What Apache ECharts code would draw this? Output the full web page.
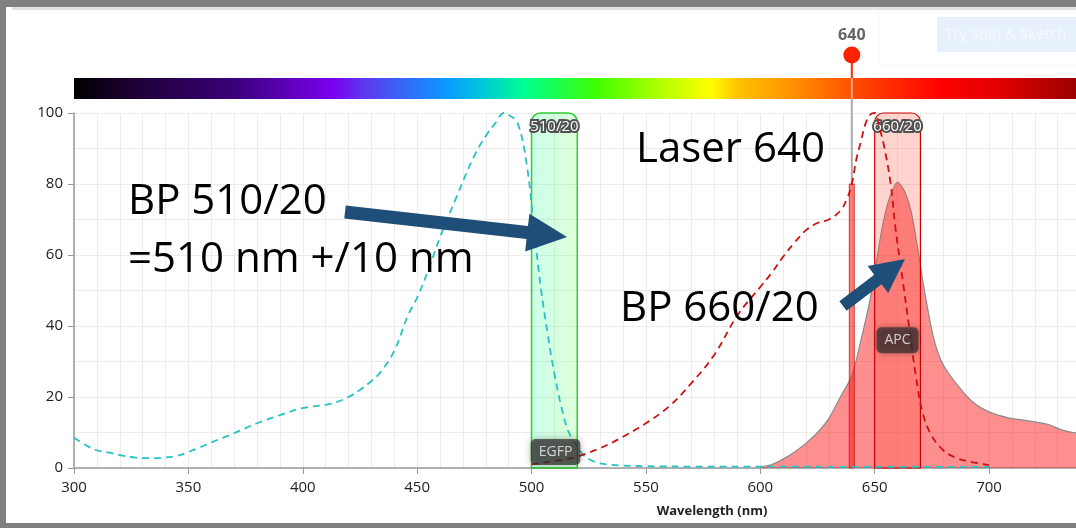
<!DOCTYPE html>
<html><head><meta charset="utf-8">
<script src="https://cdn.jsdelivr.net/npm/echarts@6/dist/echarts.min.js"></script>
<style>html,body{margin:0;padding:0;background:#fff;}#c{width:1076px;height:528px;}</style>
</head><body><div id="c"></div>
<script>
// ---- data ----
const X_MIN = 300, X_MAX = 738;
const xTickStep = 50, yTickStep = 20;
const egfpEx = [[300,8.5],[305,6.5],[310,5],[315,4.4],[320,3.6],[325,3.1],[330,2.8],[335,2.8],[340,3],[345,3.4],[350,4.5],[355,5.8],[360,7.2],[370,9.8],[380,12.6],[390,14.9],[400,16.9],[410,17.8],[415,18.6],[420,20],[425,22],[430,24.5],[434,27],[440,33],[446,43],[450,48],[455,56],[460,65],[467,76],[475,88],[480,93.5],[484,97],[488,100],[490,99.5],[494,97],[498,85],[501,68],[504,51],[507,38],[510,26.5],[513,17.3],[516,10.5],[520,6],[523,3.5],[526,2.2],[530,1.3],[535,0.9],[540,0.7],[550,0.5],[575,0.4],[600,0.4],[650,0.3],[700,0.3]];
const apcEx = [[500,1],[505,1.5],[510,2],[515,2.5],[520,3.2],[530,5.6],[540,8.8],[550,12.6],[560,17.3],[570,24],[580,32],[590,43],[600,51],[605,55],[610,59.5],[615,63.5],[620,67],[625,69],[630,70],[635,72.5],[638,76],[640,80],[642,87],[644,92],[646,97],[648,99.5],[650,100],[652,96],[654,91],[657,80],[659,68],[662,54],[665,40],[668,26],[671,15.5],[675,9],[680,5],[685,3],[690,2],[700,0.8]];
const apcEm = [[600,0.3],[605,1],[610,2.5],[615,4.5],[620,7],[625,10],[630,14],[635,20],[640,26],[644,36],[648,47.5],[651,59],[654,70],[657,77],[660,80.5],[663,78],[666,72],[669,61],[672,49],[676,36],[680,29],[686,23.5],[693,18.5],[700,15.8],[708,14.2],[717,13.3],[726,12.2],[731,10.9],[738,9.8]];
const filters = [[500,520,'510/20'],[650,670,'660/20']];
const dyeLabels = [['EGFP',510.5,4.5],['APC',660,36]];
const laser = [[640,80]];
const spectrumStops = [[300,'#000000'],[326,'#1e0035'],[370,'#3a007a'],[413,'#7a00ee'],[428,'#5a3cf0'],[463,'#0a9aff'],[479,'#00c8d8'],[497,'#00ff90'],[529,'#40ff00'],[552,'#a0ff00'],[578,'#ffff00'],[591,'#ffc000'],[618,'#ff8800'],[645,'#ff4400'],[679,'#ff0000'],[705,'#e00000'],[738,'#9b0000']];

// ---- layout ----
const G = {left:74, top:113, right:0, bottom:60};
const W = 1076;
const FONT = '"Open Sans", "Noto Sans", sans-serif';
const filterStyles = [
  {fill:{type:'linear',x:0,y:0,x2:1,y2:0,colorStops:[{offset:0,color:'rgba(0,255,150,0.2)'},{offset:1,color:'rgba(90,255,60,0.2)'}]}, stroke:'#33cc33', lw:1.5},
  {fill:'rgba(255,70,50,0.24)', stroke:'#c80000', lw:1.2}
];

const chart = echarts.init(document.getElementById('c'), null, {renderer:'canvas'});
const span = X_MAX - X_MIN;
const option = {
  animation:false,
  grid:{left:G.left, top:G.top, right:G.right, bottom:G.bottom, containLabel:false},
  xAxis:[
    {type:'value', min:X_MIN, max:X_MAX, interval:10, axisLine:{show:false}, axisTick:{show:false}, axisLabel:{show:false},
     splitLine:{show:true, lineStyle:{color:'#ececec', width:1}}},
    {type:'value', min:X_MIN, max:X_MAX, interval:xTickStep, position:'bottom',
     axisLine:{show:true, lineStyle:{color:'#999', width:1.5}},
     axisTick:{show:true, length:6, lineStyle:{color:'#999'}},
     axisLabel:{show:true, margin:12, color:'#222', fontSize:15, fontFamily:FONT, showMaxLabel:false,
       formatter:v => (v % xTickStep === 0 ? String(v) : '')},
     splitLine:{show:false}}
  ],
  yAxis:[
    {type:'value', min:0, max:100, interval:10, axisLine:{show:false}, axisTick:{show:false}, axisLabel:{show:false},
     splitLine:{show:true, lineStyle:{color:'#ececec', width:1}}},
    {type:'value', min:0, max:100, interval:yTickStep, position:'left',
     axisLine:{show:true, lineStyle:{color:'#999', width:1.5}},
     axisTick:{show:true, length:6, lineStyle:{color:'#999'}},
     axisLabel:{show:true, margin:11, color:'#222', fontSize:15, fontFamily:FONT},
     splitLine:{show:false}}
  ],
  series:[
    {type:'line', name:'APC em', data:apcEm, smooth:0.3, symbol:'none', z:2,
     lineStyle:{color:'#8a8a8a', width:1.2}, areaStyle:{color:'rgba(255,20,20,0.68)'}},
    {type:'custom', name:'filters', data:filters.map(f=>[f[0],f[1]]), z:3, clip:false,
     renderItem:(params, api) => {
       const i = params.dataIndex, st = filterStyles[i];
       const a = api.coord([api.value(0),100]), b = api.coord([api.value(1),0]);
       return {type:'group', children:[
         {type:'rect', shape:{x:a[0], y:a[1], width:b[0]-a[0], height:b[1]-a[1], r:[9,9,0,0]},
          style:{fill:st.fill, stroke:st.stroke, lineWidth:st.lw}},
         {type:'text', style:{text:filters[i][2], x:(a[0]+b[0])/2, y:a[1]+14, align:'center', verticalAlign:'middle',
          fill:'#ffffff', stroke:'#505050', lineWidth:4, strokeFirst:true, font:'15px '+FONT}}
       ]};
     }},
    {type:'custom', name:'laser', data:laser, z:4, clip:false,
     renderItem:(params, api) => {
       const p = api.coord([api.value(0), api.value(1)]);
       const p0 = api.coord([api.value(0), 0]);
       const top = params.coordSys.y;
       const barTop = top-35, barBot = top-14, cy = top-58;
       return {type:'group', children:[
         {type:'line', shape:{x1:p[0], y1:barBot, x2:p[0], y2:p[1]}, style:{stroke:'#ababab', lineWidth:2}},
         {type:'line', shape:{x1:p[0], y1:barTop, x2:p[0], y2:barBot}, style:{stroke:'rgba(255,190,170,0.8)', lineWidth:2}},
         {type:'rect', shape:{x:p[0]-2.5, y:p[1], width:5, height:p0[1]-p[1]}, style:{fill:'rgba(255,40,30,0.6)', stroke:'rgba(190,0,0,0.7)', lineWidth:1}},
         {type:'line', shape:{x1:p[0], y1:cy, x2:p[0], y2:barTop}, style:{stroke:'#ff2a00', lineWidth:2}},
         {type:'circle', shape:{cx:p[0], cy:cy, r:8.5}, style:{fill:'#ff2200'}},
         {type:'text', style:{text:String(api.value(0)), x:p[0], y:cy-20, align:'center', verticalAlign:'middle', fill:'#666', font:'bold 16px '+FONT}}
       ]};
     }},
    {type:'line', name:'EGFP ex', data:egfpEx, smooth:0.4, symbol:'none', z:5,
     lineStyle:{color:'#26c2c6', width:1.8, type:[7,5]}},
    {type:'line', name:'APC ex', data:apcEx, smooth:0.4, symbol:'none', z:5,
     lineStyle:{color:'#cc1111', width:1.8, type:[7,5]}},
    {type:'scatter', name:'dyes', z:6, symbolSize:1, itemStyle:{color:'rgba(0,0,0,0)'},
     data:dyeLabels.map(d=>({name:d[0], value:[d[1],d[2]]})),
     label:{show:true, position:'inside', formatter:'{b}', color:'#f2f2f2', fontSize:14, lineHeight:14, fontFamily:FONT,
       backgroundColor:'rgba(48,44,44,0.9)', borderRadius:5, padding:[6,8],
       shadowBlur:7, shadowColor:'rgba(0,0,0,0.4)'}}
  ],
  graphic:[
    {type:'rect', shape:{x:0,y:0,width:W,height:7}, style:{fill:'#808080'}, z:100},
    {type:'rect', shape:{x:12,y:7,width:W-12,height:3}, style:{fill:'#e2e2e2'}, z:100},
    {type:'rect', shape:{x:0,y:0,width:6,height:528}, style:{fill:'#808080'}, z:100},
    {type:'rect', shape:{x:0,y:523,width:W,height:5}, style:{fill:'#808080'}, z:100},
    {type:'rect', shape:{x:880,y:10,width:196,height:54}, style:{fill:'#ffffff', shadowBlur:4, shadowColor:'rgba(0,0,0,0.06)'}, z:90},
    {type:'rect', shape:{x:937,y:17,width:139,height:35}, style:{fill:'#e7f1fb'}, z:91},
    {type:'text', style:{text:'Try Snip & Sketch', x:945, y:35, verticalAlign:'middle', fill:'#f6f9fd', font:'15px '+FONT}, z:92},
    {type:'rect', shape:{x:G.left, y:G.top-35, width:W-G.left-G.right, height:21},
     style:{fill:{type:'linear', x:0, y:0, x2:1, y2:0,
       colorStops:spectrumStops.map(s=>({offset:(s[0]-X_MIN)/span, color:s[1]}))}}, z:1},
    {type:'text', style:{text:'Wavelength (nm)', x:712, y:511, align:'center', verticalAlign:'middle', fill:'#222', font:'bold 13px '+FONT}, z:10},
    {type:'text', style:{text:'BP 510/20', x:128, y:202, verticalAlign:'middle', fill:'#000', font:'42px '+FONT}, z:20},
    {type:'text', style:{text:'=510 nm +/10 nm', x:128, y:260, verticalAlign:'middle', fill:'#000', font:'42px '+FONT}, z:20},
    {type:'text', style:{text:'Laser 640', x:636, y:150, verticalAlign:'middle', fill:'#000', font:'42px '+FONT}, z:20},
    {type:'text', style:{text:'BP 660/20', x:620, y:309, verticalAlign:'middle', fill:'#000', font:'42px '+FONT}, z:20}
  ]
};

function arrow(x1,y1,x2,y2,sw,hl,hw){
  const dx=x2-x1, dy=y2-y1, L=Math.hypot(dx,dy), ux=dx/L, uy=dy/L, nx=-uy, ny=ux;
  const bx=x2-ux*hl, by=y2-uy*hl;
  return [[x1+nx*sw/2,y1+ny*sw/2],[bx+nx*sw/2,by+ny*sw/2],[bx+nx*hw/2,by+ny*hw/2],[x2,y2],
          [bx-nx*hw/2,by-ny*hw/2],[bx-nx*sw/2,by-ny*sw/2],[x1-nx*sw/2,y1-ny*sw/2]];
}
option.graphic.push({type:'polygon', shape:{points:arrow(345,212,567,237,13,40,38)}, style:{fill:'#1f4e79'}, z:20});
option.graphic.push({type:'polygon', shape:{points:arrow(843,306,905,259,12,34,34)}, style:{fill:'#1f4e79'}, z:20});
chart.setOption(option);
</script></body></html>
